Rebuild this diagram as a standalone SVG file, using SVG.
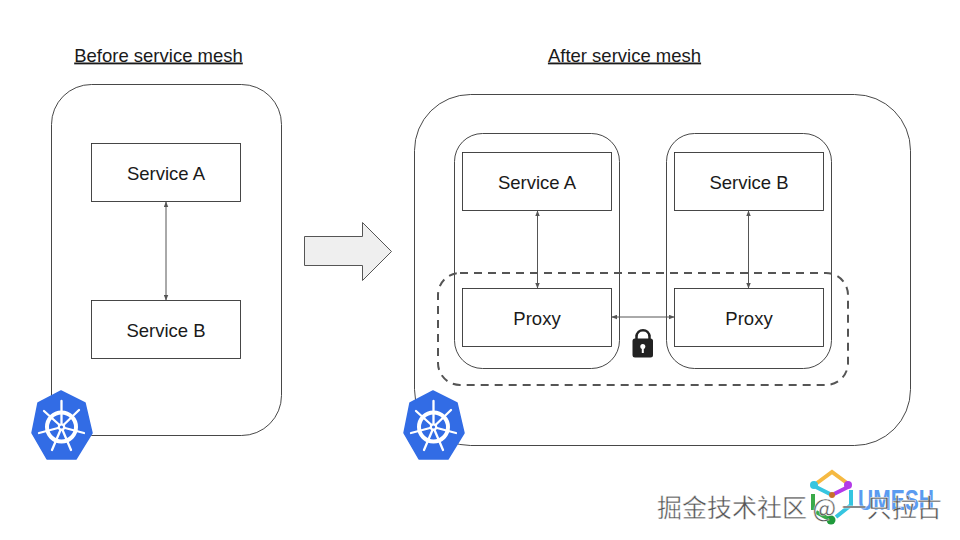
<svg xmlns="http://www.w3.org/2000/svg" width="960" height="540" viewBox="0 0 960 540">
<style>
text{font-family:"Liberation Sans",Arial,sans-serif;fill:#1a1a1a;font-size:18.500px;text-anchor:middle}
.title{text-decoration:underline}
.box{fill:#fff;stroke:#333;stroke-width:.9}
.pod{fill:none;stroke:#333;stroke-width:.9}
.conn{fill:none;stroke:#555;stroke-width:1;marker-start:url(#a);marker-end:url(#a)}
.wm{font-family:"Noto Sans CJK SC",sans-serif;font-size:25px;fill:#555;stroke:#fff;stroke-width:.4;text-anchor:start}
</style>
<defs>
<marker id="a" viewBox="0 0 10 8" refX="9" refY="4" markerWidth="6" markerHeight="5" orient="auto-start-reverse" markerUnits="userSpaceOnUse"><path d="M0 0L10 4L0 8Z" fill="#555"/></marker>
<g id="k8s">
<path d="M61 391L85 403L92 433L76 459L47 459L32 433L38 403Z" fill="#326ce5" stroke="#326ce5" stroke-width="1.500" stroke-linejoin="round"/>
<g fill="none" stroke="#fff">
<circle cx="61.500" cy="427" r="14.500" stroke-width="4"/>
<path d="M61.500 401V423M79 410L64 424.500M84 433L65 428M71 450L62.500 430M52 450L60.500 430M39 433L58 428M44 411L59 424.500" stroke-width="2.300" stroke-linecap="round"/>
</g>
<circle cx="61.500" cy="427" r="3.800" fill="#fff"/>
<circle cx="61.500" cy="427" r="1.600" fill="#326ce5"/>
</g>
</defs>
<rect width="960" height="540" fill="#fff"/>
<text class="title" x="158.500" y="61.500">Before service mesh</text>
<text class="title" x="624.500" y="61.500">After service mesh</text>
<g id="cluster-before"><rect class="pod" x="51.500" y="84.500" width="230" height="351" rx="40"/></g>
<g id="cluster-after"><rect class="pod" x="414.500" y="94.500" width="496" height="351" rx="56"/></g>
<g id="pod-a"><rect class="pod" x="454.500" y="133.500" width="165" height="235" rx="28"/></g>
<g id="pod-b"><rect class="pod" x="666.500" y="133.500" width="165" height="235" rx="28"/></g>
<g id="before-a"><rect class="box" x="91.500" y="143.500" width="149" height="58"/><text x="166" y="179.500">Service A</text></g>
<g id="before-b"><rect class="box" x="91.500" y="300.500" width="149" height="58"/><text x="166" y="336.500">Service B</text></g>
<g id="after-sa"><rect class="box" x="462.500" y="152.500" width="149" height="58"/><text x="537" y="188.500">Service A</text></g>
<g id="after-sb"><rect class="box" x="674.500" y="152.500" width="149" height="58"/><text x="749" y="188.500">Service B</text></g>
<g id="after-pa"><rect class="box" x="462.500" y="288.500" width="149" height="58"/><text x="537" y="324.500">Proxy</text></g>
<g id="after-pb"><rect class="box" x="674.500" y="288.500" width="149" height="58"/><text x="749" y="324.500">Proxy</text></g>
<g id="mesh"><rect x="438" y="273" width="410" height="112" rx="22" fill="none" stroke="#555" stroke-width="2" stroke-dasharray="8 6"/></g>
<g id="connectors">
<path class="conn" d="M166 202V300"/>
<path class="conn" d="M537.500 211V288"/>
<path class="conn" d="M748.500 211V288"/>
<path class="conn" d="M612 317H674"/>
</g>
<g id="big-arrow"><path d="M304.500 236.500H362.500V222.500L391.500 251.500L362.500 280.500V265.500H304.500Z" fill="#efefef" stroke="#555" stroke-width="1"/></g>
<g id="lock">
<path d="M636.500 335V340M649.500 335V340M636.500 337C636.500 328 649.500 328 649.500 337" fill="none" stroke="#222" stroke-width="2.500"/>
<rect x="632.500" y="338.500" width="20.500" height="19" rx="2.500" fill="#222"/>
<circle cx="642.800" cy="346.500" r="2.500" fill="#fff"/>
<rect x="641.800" y="347" width="2" height="6" fill="#fff"/>
</g>
<use id="k8s-before" href="#k8s"/>
<use id="k8s-after" href="#k8s" x="372"/>
<g id="logo">
<g fill="none" stroke-width="4">
<path d="M817 483L832 472L847 483" stroke="#f5b942"/>
<path d="M848 487L834 494" stroke="#b43be8"/>
<path d="M816 487L830 494" stroke="#36c5e0"/>
<path d="M813 494V510" stroke="#3aaa4a"/>
<path d="M851 490V505L836 517" stroke="#36c5e0"/>
<path d="M816 512L829 519" stroke="#3aaa4a"/>
</g>
<circle cx="814" cy="485" r="4" fill="#36c5e0"/>
<circle cx="848" cy="485" r="4" fill="#b43be8"/>
<circle cx="832" cy="495" r="3" fill="#c8702a"/>
<circle cx="831" cy="520" r="4.500" fill="#1f9a3c"/>
<text x="896" y="510" style="font-family:'Liberation Sans',sans-serif;font-size:29px;fill:#5b9bf0;font-weight:700" textLength="76" lengthAdjust="spacingAndGlyphs">UMESH</text>
</g>
<text class="wm" x="657" y="517">掘金技术社区 @ 一只拉古</text>
</svg>
